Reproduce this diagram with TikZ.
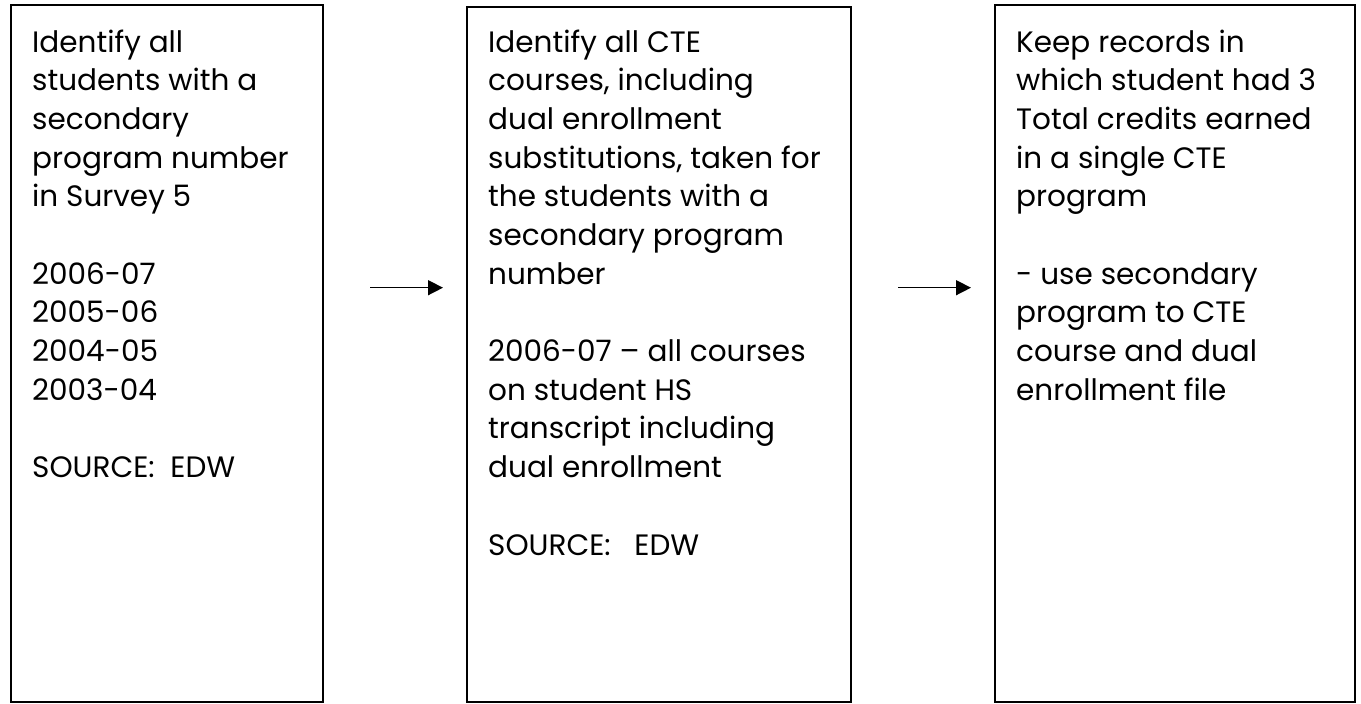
\documentclass[tikz,border=0pt]{standalone}
\usepackage{fontspec}
\setmainfont{Poppins}
\usetikzlibrary{arrows.meta}
\tikzset{
  stepbox/.style={draw=black, line width=2pt, fill=none, inner sep=0pt},
  boxtext/.style={anchor=base west, inner sep=0pt, text=black},
  flow/.style={line width=1.5pt, -{Triangle[length=15pt,width=15pt]}}
}
\newcommand{\boxlines}[1]{\parbox[t]{360pt}{\raggedright\fontsize{29.5}{38.7}\selectfont #1}}
\begin{document}
\begin{tikzpicture}[x=1pt,y=-1pt]
\useasboundingbox (0,0) rectangle (1361,704);
\fill[white] (0,0) rectangle (1361,704);
% boxes
\node[stepbox, minimum width=312pt, minimum height=697pt] (b1) at (167,353.5) {};
\node[stepbox, minimum width=384pt, minimum height=695pt] (b2) at (659,354.5) {};
\node[stepbox, minimum width=360pt, minimum height=697.5pt] (b3) at (1175,353.25) {};
% texts
\node[boxtext] (t1) at (32,52) {\boxlines{Identify all\\students with a\\secondary\\program number\\in Survey 5\\[38.7pt]2006-07\\2005-06\\2004-05\\2003-04\\[38.7pt]SOURCE:\ \ EDW}};
\node[boxtext] (t2) at (488,52) {\boxlines{Identify all CTE\\courses, including\\dual enrollment\\substitutions, taken for\\the students with a\\secondary program\\number\\[38.7pt]2006-07 -- all courses\\on student HS\\transcript including\\dual enrollment\\[38.7pt]SOURCE:\ \ \ EDW}};
\node[boxtext] (t3) at (1016,52) {\boxlines{Keep records in\\which student had 3\\Total credits earned\\in a single CTE\\program\\[38.7pt]- use secondary\\program to CTE\\course and dual\\enrollment file}};
% arrows
\coordinate (a1s) at (370,287.7);
\coordinate (a1e) at (443,287.7);
\coordinate (a2s) at (898,287.7);
\coordinate (a2e) at (971,287.7);
\draw[flow] (a1s) -- (a1e);
\draw[flow] (a2s) -- (a2e);
\end{tikzpicture}
\end{document}
